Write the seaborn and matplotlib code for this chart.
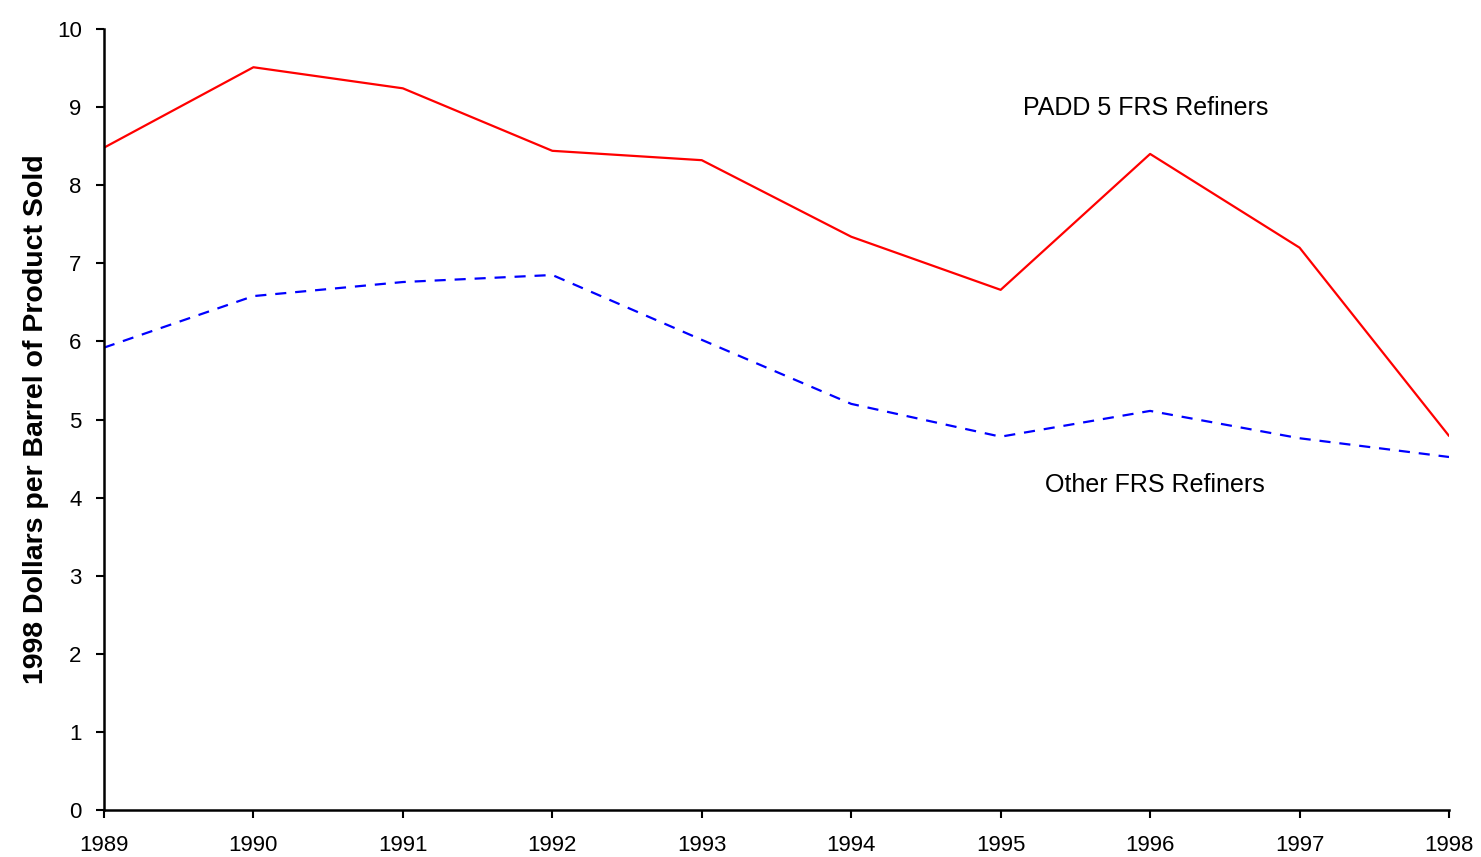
import pandas as pd
import matplotlib.pyplot as plt
import seaborn as sns

years = [1989, 1990, 1991, 1992, 1993, 1994, 1995, 1996, 1997, 1998]
padd5 = [8.48, 9.51, 9.24, 8.44, 8.32, 7.34, 6.66, 8.40, 7.20, 4.79]
other = [5.92, 6.58, 6.76, 6.85, 6.02, 5.20, 4.78, 5.11, 4.76, 4.52]

df = pd.DataFrame({'year': years, 'PADD 5 FRS Refiners': padd5, 'Other FRS Refiners': other})
long_df = df.melt(id_vars='year', var_name='group', value_name='value')

sns.set_style('white')
plt.rcParams['font.family'] = ['Liberation Sans', 'DejaVu Sans']
plt.rcParams['text.color'] = 'black'
plt.rcParams['xtick.color'] = 'black'
plt.rcParams['ytick.color'] = 'black'
plt.rcParams['axes.labelcolor'] = 'black'

fig = plt.figure(figsize=(14.81, 8.57), dpi=100)
ax = fig.add_axes([0.0702, 0.0548, 0.9082, 0.9114])

sns.lineplot(data=long_df, x='year', y='value', hue='group', style='group',
             palette={'PADD 5 FRS Refiners': '#ff0000', 'Other FRS Refiners': '#0000ff'},
             dashes={'PADD 5 FRS Refiners': '', 'Other FRS Refiners': (5, 4)},
             linewidth=1.6, legend=False, ax=ax)

ax.set_xlim(1989, 1998)
ax.set_ylim(0, 10)
ax.set_xticks(years)
ax.set_yticks(range(0, 11))
ax.set_xlabel('')
ax.set_ylabel('1998 Dollars per Barrel of Product Sold', fontsize=20.5, fontweight='bold', labelpad=6)
ax.tick_params(axis='both', direction='out', length=6, width=1.5, labelsize=16, left=True, bottom=True)
ax.tick_params(axis='x', pad=12)
ax.tick_params(axis='y', pad=10)

sns.despine(ax=ax)
for s in ['left', 'bottom']:
    ax.spines[s].set_color('black')
    ax.spines[s].set_linewidth(1.8)

ax.text(1995.15, 8.99, 'PADD 5 FRS Refiners', fontsize=18, ha='left', va='center')
ax.text(1995.3, 4.16, 'Other FRS Refiners', fontsize=18, ha='left', va='center')

fig.savefig('out.png', dpi=100)
